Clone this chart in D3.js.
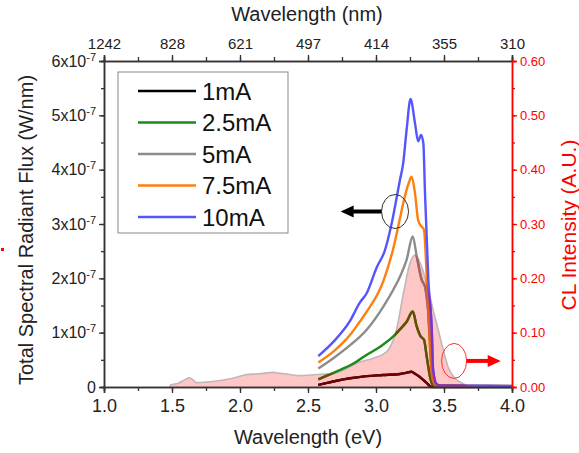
<!DOCTYPE html>
<html>
<head>
<meta charset="utf-8">
<script src="https://cdn.jsdelivr.net/npm/d3@7/dist/d3.min.js"></script>
<style>
  html, body { margin: 0; padding: 0; background: #fff; }
  svg { display: block; font-family: "Liberation Sans", Arial, sans-serif; }
</style>
</head>
<body>
<svg id="chart" width="579" height="453"></svg>
<script>
// flux series: [photon energy (eV), flux (x1e-7 W/nm)]
const series1mA = [[2.576, 0.04], [2.65, 0.08], [2.72, 0.12], [2.81, 0.16], [2.93, 0.20], [3.05, 0.22], [3.176, 0.24], [3.22, 0.26], [3.26, 0.28], [3.29, 0.24], [3.32, 0.19], [3.37, 0.08], [3.41, 0.0], [3.45, 0.0], [4.0, 0.0]]
const series2p5mA = [[2.576, 0.14], [2.63, 0.20], [2.686, 0.26], [2.75, 0.33], [2.81, 0.40], [2.87, 0.49], [2.93, 0.59], [3.03, 0.74], [3.127, 0.93], [3.176, 1.06], [3.225, 1.20], [3.27, 1.39], [3.30, 1.11], [3.328, 0.93], [3.353, 0.87], [3.373, 0.56], [3.397, 0.19], [3.42, 0.03], [3.45, 0.01], [4.0, 0.01]]
const series5mA = [[2.576, 0.34], [2.686, 0.53], [2.81, 0.77], [2.93, 1.05], [3.054, 1.48], [3.127, 1.79], [3.176, 2.03], [3.225, 2.34], [3.27, 2.77], [3.30, 2.40], [3.336, 1.97], [3.36, 1.85], [3.385, 1.36], [3.41, 0.44], [3.44, 0.05], [3.5, 0.02], [4.0, 0.01]]
const series7p5mA = [[2.576, 0.45], [2.686, 0.65], [2.81, 0.96], [2.88, 1.20], [2.93, 1.38], [3.054, 1.95], [3.127, 2.55], [3.176, 3.10], [3.20, 3.38], [3.24, 3.75], [3.262, 3.87], [3.287, 3.56], [3.31, 3.07], [3.336, 2.95], [3.353, 2.89], [3.37, 2.2], [3.39, 1.1], [3.415, 0.15], [3.44, 0.03], [4.0, 0.02]]
const series10mA = [[2.576, 0.57], [2.686, 0.83], [2.81, 1.22], [2.88, 1.55], [2.93, 1.72], [3.005, 2.20], [3.066, 2.52], [3.115, 3.01], [3.176, 3.81], [3.20, 4.12], [3.225, 4.73], [3.254, 5.30], [3.287, 4.85], [3.31, 4.52], [3.331, 4.64], [3.348, 4.49], [3.36, 3.6], [3.385, 1.97], [3.41, 1.05], [3.42, 0.31], [3.446, 0.05], [3.47, 0.03], [4.0, 0.02]]

// CL spectrum: [photon energy (eV), intensity (A.U.)]
const clSpectrum = [[1.485, 0.0], [1.49, 0.004], [1.546, 0.007], [1.60, 0.014], [1.627, 0.017], [1.65, 0.014], [1.68, 0.008], [1.75, 0.009], [1.80, 0.010], [1.88, 0.013], [1.95, 0.016], [2.05, 0.023], [2.12, 0.024], [2.20, 0.026], [2.245, 0.027], [2.30, 0.025], [2.34, 0.024], [2.44, 0.021], [2.56, 0.023], [2.686, 0.025], [2.78, 0.033], [2.858, 0.044], [2.98, 0.053], [3.05, 0.060], [3.09, 0.068], [3.15, 0.105], [3.20, 0.170], [3.25, 0.228], [3.287, 0.243], [3.336, 0.221], [3.385, 0.179], [3.42, 0.142], [3.458, 0.105], [3.495, 0.068], [3.53, 0.037], [3.58, 0.016], [3.64, 0.006], [3.70, 0.0]]

const legendLabels = ["1mA", "2.5mA", "5mA", "7.5mA", "10mA"]
const xTicks = [1.0, 1.5, 2.0, 2.5, 3.0, 3.5, 4.0]
const nmLabels = ["1242", "828", "621", "497", "414", "355", "310"]
const leftTicks = [0, 1, 2, 3, 4, 5, 6]
const rightTicks = [0, 0.1, 0.2, 0.3, 0.4, 0.5, 0.6]

// annotations: ellipse centre + arrow tip, in data units
const fluxMarker = { e: 3.14, v: 3.23, tipE: 2.74 }
const clMarker = { e: 3.574, v: 0.048, tipE: 3.917 }

const allSeries = [series1mA, series2p5mA, series5mA, series7p5mA, series10mA]
const lineColors = ["#000000", "#1b8a1b", "#8c8c8c", "#ff7f0e", "#5555ff"]
// how each line looks where it runs under the translucent CL fill
const underColors = ["#720000", "#6b4c00", "#a86464", "#e0641c", "#7a34cc"]

const svg = d3.select("#chart")
const plotLeft = 104, plotRight = 512, plotTop = 61, plotBottom = 387

const x = d3.scaleLinear().domain([1, 4]).range([plotLeft, plotRight])
const yFlux = d3.scaleLinear().domain([0, 6]).range([plotBottom, plotTop])
const yCL = d3.scaleLinear().domain([0, 0.6]).range([plotBottom, plotTop])

// CL area
const area = d3.area()
  .curve(d3.curveMonotoneX)
  .x(d => x(d[0]))
  .y0(yCL(0))
  .y1(d => yCL(d[1]))
const outline = d3.line()
  .curve(d3.curveMonotoneX)
  .x(d => x(d[0]))
  .y(d => yCL(d[1]))

svg.append("clipPath").attr("id", "clArea")
  .append("path").attr("d", area(clSpectrum))

svg.append("path")
  .attr("d", area(clSpectrum))
  .attr("fill", "#ffc6c6")

svg.append("path")
  .attr("d", outline(clSpectrum))
  .attr("fill", "none")
  .attr("stroke", "#c2b6b6")
  .attr("stroke-width", 1.6)

const line = d3.line()
  .curve(d3.curveMonotoneX)
  .x(d => x(d[0]))
  .y(d => yFlux(d[1]))

allSeries.forEach((s, i) => {
  svg.append("path")
    .datum(s)
    .attr("fill", "none")
    .attr("stroke", lineColors[i])
    .attr("stroke-width", 2.4)
    .attr("stroke-linejoin", "round")
    .attr("d", line)
})
allSeries.forEach((s, i) => {
  svg.append("path")
    .datum(s)
    .attr("clip-path", "url(#clArea)")
    .attr("fill", "none")
    .attr("stroke", underColors[i])
    .attr("stroke-width", 2.4)
    .attr("stroke-linejoin", "round")
    .attr("d", line)
})

// axes
const minorX = d3.range(1, 4.001, 0.25)
const styleAxis = (g, color) => {
  g.select(".domain").attr("stroke", color).attr("stroke-width", 1.5)
  g.selectAll(".tick line").attr("stroke", color).attr("stroke-width", 1.3)
}

svg.append("g").attr("transform", `translate(0,${plotBottom})`)
  .call(d3.axisBottom(x).tickValues(minorX).tickSize(4).tickFormat(""))
  .call(g => styleAxis(g, "#333"))
const gx = svg.append("g").attr("transform", `translate(0,${plotBottom})`)
  .call(d3.axisBottom(x).tickValues(xTicks).tickSize(6).tickPadding(6).tickFormat(d3.format(".1f")))
  .call(g => styleAxis(g, "#333"))
gx.selectAll("text").attr("font-size", 18).attr("fill", "#222")

svg.append("g").attr("transform", `translate(0,${plotTop})`)
  .call(d3.axisTop(x).tickValues(minorX).tickSize(4).tickFormat(""))
  .call(g => styleAxis(g, "#333"))
const gt = svg.append("g").attr("transform", `translate(0,${plotTop})`)
  .call(d3.axisTop(x).tickValues(xTicks).tickSize(6).tickPadding(6).tickFormat((d, i) => nmLabels[i]))
  .call(g => styleAxis(g, "#333"))
gt.selectAll("text").attr("font-size", 15).attr("fill", "#222")

svg.append("g").attr("transform", `translate(${plotLeft},0)`)
  .call(d3.axisLeft(yFlux).tickValues(d3.range(0, 6.01, 0.5)).tickSize(3).tickFormat(""))
  .call(g => styleAxis(g, "#333"))
const gy = svg.append("g").attr("transform", `translate(${plotLeft},0)`)
  .call(d3.axisLeft(yFlux).tickValues(leftTicks).tickSize(5).tickPadding(3).tickFormat(""))
  .call(g => styleAxis(g, "#333"))
gy.selectAll(".tick").each(function (d) {
  const t = d3.select(this).select("text")
    .attr("font-size", 16).attr("fill", "#222")
  if (d === 0) { t.text("0"); return }
  t.append("tspan").text(d + "x10")
  t.append("tspan").attr("font-size", 11).attr("dy", "-0.55em").text("-7")
})

svg.append("g").attr("transform", `translate(${plotRight},0)`)
  .call(d3.axisRight(yCL).tickValues(d3.range(0, 0.601, 0.05)).tickSize(3).tickFormat(""))
  .call(g => styleAxis(g, "#ff0000"))
const gr = svg.append("g").attr("transform", `translate(${plotRight},0)`)
  .call(d3.axisRight(yCL).tickValues(rightTicks).tickSize(5).tickPadding(3).tickFormat(d3.format(".2f")))
  .call(g => styleAxis(g, "#ff0000"))
gr.selectAll("text").attr("font-size", 13).attr("fill", "#ff0000")

svg.selectAll(".tick text").attr("font-family", null)

// titles
svg.append("text").attr("x", 307).attr("y", 21).attr("text-anchor", "middle")
  .attr("font-size", 20).attr("fill", "#222").text("Wavelength (nm)")
svg.append("text").attr("x", 308).attr("y", 444).attr("text-anchor", "middle")
  .attr("font-size", 20).attr("fill", "#222").text("Wavelength (eV)")
svg.append("text").attr("transform", "translate(33,230) rotate(-90)").attr("text-anchor", "middle")
  .attr("font-size", 20).attr("fill", "#222").text("Total Spectral Radiant Flux (W/nm)")
svg.append("text").attr("transform", "translate(576,225) rotate(-90)").attr("text-anchor", "middle")
  .attr("font-size", 21).attr("fill", "#ff0000").text("CL Intensity (A.U.)")

// legend
const legend = svg.append("g")
legend.append("rect").attr("x", 118).attr("y", 72).attr("width", 170).attr("height", 161)
  .attr("fill", "#fff").attr("stroke", "#888").attr("stroke-width", 1)
legendLabels.forEach((lab, i) => {
  const cy = 91 + i * 31.5
  legend.append("line").attr("x1", 138).attr("x2", 196).attr("y1", cy).attr("y2", cy)
    .attr("stroke", lineColors[i]).attr("stroke-width", 2.6)
  legend.append("text").attr("x", 202).attr("y", cy).attr("dy", "0.36em")
    .attr("font-size", 24).attr("fill", "#111").text(lab)
})

// annotations
const arrow = (x1, x2, yv, color) => {
  const dir = Math.sign(x2 - x1)
  svg.append("line").attr("x1", x1).attr("x2", x2 - dir * 10).attr("y1", yv).attr("y2", yv)
    .attr("stroke", color).attr("stroke-width", 4)
  svg.append("path")
    .attr("d", `M${x2},${yv} L${x2 - dir * 13},${yv - 6} L${x2 - dir * 13},${yv + 6} Z`)
    .attr("fill", color)
}
svg.append("ellipse").attr("cx", x(fluxMarker.e)).attr("cy", yFlux(fluxMarker.v))
  .attr("rx", 13.5).attr("ry", 17).attr("fill", "none").attr("stroke", "#333").attr("stroke-width", 1)
arrow(x(fluxMarker.e) - 13.5, x(fluxMarker.tipE), yFlux(fluxMarker.v), "#000")

svg.append("ellipse").attr("cx", x(clMarker.e)).attr("cy", yCL(clMarker.v))
  .attr("rx", 12.5).attr("ry", 17.5).attr("fill", "none").attr("stroke", "#ff3030").attr("stroke-width", 1)
arrow(x(clMarker.e) + 12.5, x(clMarker.tipE), yCL(clMarker.v), "#ff0000")

// small stray red mark at the left edge of the original figure
svg.append("rect").attr("x", 1).attr("y", 248).attr("width", 3).attr("height", 3).attr("fill", "#ff0000")
</script>
</body>
</html>
